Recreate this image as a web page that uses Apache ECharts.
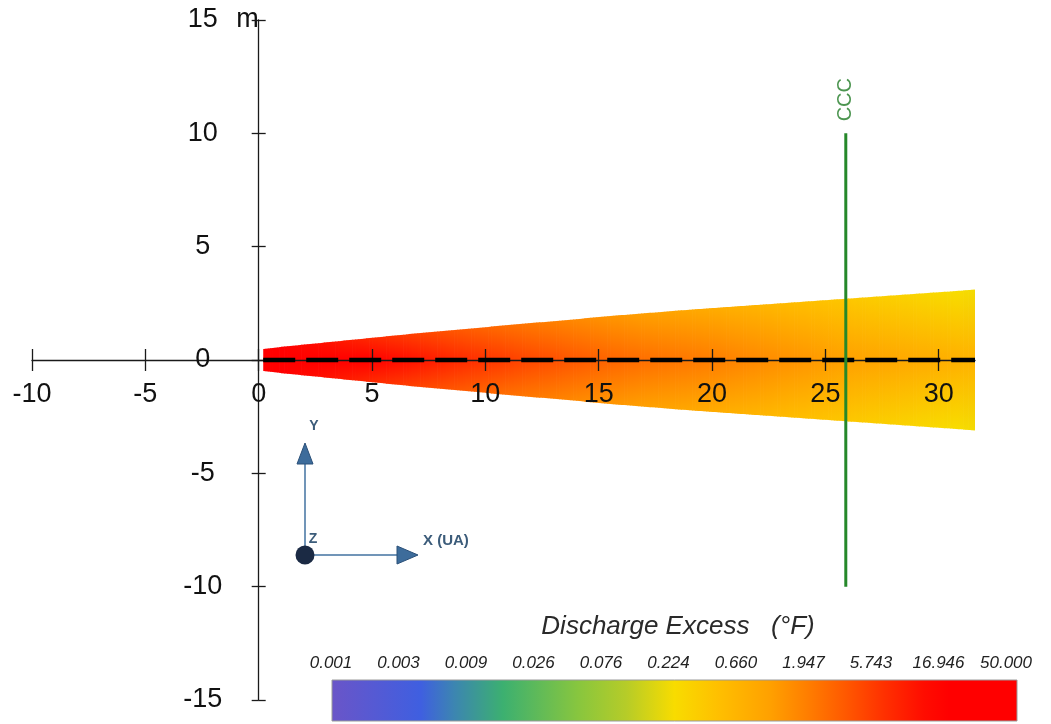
<!DOCTYPE html>
<html>
<head>
<meta charset="utf-8">
<script src="https://cdn.jsdelivr.net/npm/echarts@6/dist/echarts.min.js"></script>
<style>
  html, body { margin: 0; padding: 0; background: #ffffff; }
  #chart { width: 1051px; height: 724px; }
</style>
</head>
<body>
<div id="chart"></div>
<script>
// Plume stations along the discharge axis (m)
const plumeX = [0.2, 1, 2, 3, 4, 5, 6, 7, 8, 9, 10, 11, 12, 13, 14, 15, 16, 17, 18, 19, 20,
                21, 22, 23, 24, 25, 26, 27, 28, 29, 30, 31, 31.6];
// Plume half-width at each station (m)
const plumeHalfWidth = [0.48, 0.58, 0.68, 0.78, 0.88, 0.98, 1.08, 1.18, 1.27, 1.36, 1.45, 1.54, 1.63,
                        1.71, 1.8, 1.9, 1.98, 2.06, 2.14, 2.22, 2.29, 2.36, 2.43, 2.5, 2.57, 2.64,
                        2.71, 2.78, 2.85, 2.92, 2.99, 3.06, 3.11];
// Discharge excess on the centreline (°F)
const centerExcess = [50, 42, 33, 26, 20, 16, 12.5, 10, 8.2, 6.8, 5.8, 5.0, 4.3, 3.8, 3.3, 2.9, 2.6,
                      2.35, 2.15, 2.0, 1.85, 1.65, 1.5, 1.35, 1.22, 1.1, 1.0, 0.92, 0.85, 0.78, 0.72,
                      0.66, 0.63];
// Discharge excess at the plume boundary (°F)
const edgeExcess = [22, 17, 13, 10.5, 8.5, 6.8, 5.6, 4.6, 3.8, 3.2, 2.7, 2.3, 2.0, 1.75, 1.5, 1.3,
                    1.15, 1.02, 0.92, 0.82, 0.74, 0.66, 0.59, 0.52, 0.46, 0.41, 0.37, 0.33, 0.3, 0.27,
                    0.24, 0.22, 0.21];

// CCC boundary
const cccX = 25.9;
const cccSpan = [-10, 10];

// Axis ticks
const xTicks = [-10, -5, 0, 5, 10, 15, 20, 25, 30];
const yTicks = [-15, -10, -5, 0, 5, 10, 15];

// Colour bar (log scale)
const colorbarMin = 0.001;
const colorbarMax = 50;
const colorbarLabels = ['0.001', '0.003', '0.009', '0.026', '0.076', '0.224', '0.660', '1.947',
                        '5.743', '16.946', '50.000'];

// Colour map stops (position along the bar, colour)
const cmapPos = [0, 0.13, 0.18, 0.25, 0.36, 0.43, 0.5, 0.567, 0.64, 0.70, 0.75, 0.806, 0.864, 0.9, 1];
const cmapColors = ['#6a55c8', '#3f5fe0', '#3c86b0', '#3cb070', '#88c63e', '#b6cc28', '#f8dc00',
                    '#ffbe00', '#ffa000', '#ff7a00', '#ff5800', '#ff3000', '#ff0c00', '#ff0000', '#ff0000'];

function hexToRgb(h) {
  const n = parseInt(h.slice(1), 16);
  return [(n >> 16) & 255, (n >> 8) & 255, n & 255];
}
const cmapRgb = cmapColors.map(hexToRgb);

function excessColor(v) {
  let t = Math.log(v / colorbarMin) / Math.log(colorbarMax / colorbarMin);
  t = Math.max(0, Math.min(1, t));
  let k = 0;
  while (k < cmapPos.length - 2 && t > cmapPos[k + 1]) k++;
  const f = (t - cmapPos[k]) / (cmapPos[k + 1] - cmapPos[k]);
  const a = cmapRgb[k], b = cmapRgb[k + 1];
  const c = a.map((x, j) => Math.round(x + (b[j] - x) * f));
  return 'rgb(' + c.join(',') + ')';
}

// One plume piece per pair of neighbouring stations
const plumeStrips = [];
for (let i = 0; i < plumeX.length - 1; i++) {
  plumeStrips.push([plumeX[i], plumeX[i + 1], plumeHalfWidth[i], plumeHalfWidth[i + 1],
                    centerExcess[i], centerExcess[i + 1], edgeExcess[i], edgeExcess[i + 1]]);
}

// Each piece is shaded as thin slices so the field varies smoothly between stations
const SLICES = 8;
function renderStrip(params, api) {
  const x0 = api.value(0), x1 = api.value(1);
  const w0 = api.value(2), w1 = api.value(3);
  const c0 = Math.log(api.value(4)), c1 = Math.log(api.value(5));
  const e0 = Math.log(api.value(6)), e1 = Math.log(api.value(7));
  const last = params.dataIndex === params.dataInsideLength - 1;
  const children = [];
  for (let s = 0; s < SLICES; s++) {
    const fa = s / SLICES, fb = (s + 1) / SLICES, fm = (s + 0.5) / SLICES;
    const xa = x0 + (x1 - x0) * fa, xb = x0 + (x1 - x0) * fb;
    const wa = w0 + (w1 - w0) * fa, wb = w0 + (w1 - w0) * fb;
    const a = api.coord([xa, wa]);
    const b = api.coord([xb, wb]);
    const c = api.coord([xb, -wb]);
    const d = api.coord([xa, -wa]);
    const pad = (last && s === SLICES - 1) ? 0 : 0.7;
    const edgeCol = excessColor(Math.exp(e0 + (e1 - e0) * fm));
    const midCol = excessColor(Math.exp(c0 + (c1 - c0) * fm));
    children.push({
      type: 'polygon',
      shape: { points: [a, [b[0] + pad, b[1]], [c[0] + pad, c[1]], d] },
      style: {
        fill: {
          type: 'linear', x: 0, y: 0, x2: 0, y2: 1,
          colorStops: [
            { offset: 0, color: edgeCol },
            { offset: 0.5, color: midCol },
            { offset: 1, color: edgeCol }
          ]
        },
        stroke: null
      }
    });
  }
  return { type: 'group', children: children };
}

const FONT = 'Liberation Sans';
const axisColor = '#1a1a1a';

// Grid geometry: the axes cross at the origin
const GRID_LEFT = 32, GRID_RIGHT = 76, GRID_TOP = 20, GRID_BOTTOM = 24;
const X_MIN = -10, X_MAX = 31.6, Y_MIN = -15, Y_MAX = 15;
const gridW = 1051 - GRID_LEFT - GRID_RIGHT;
const gridH = 724 - GRID_TOP - GRID_BOTTOM;
const xAxisOffset = -gridH * (0 - Y_MIN) / (Y_MAX - Y_MIN);
const yAxisOffset = -gridW * (0 - X_MIN) / (X_MAX - X_MIN);

const chart = echarts.init(document.getElementById('chart'), null, { renderer: 'canvas' });

const triadBlue = '#3d6c9b';
const triadLine = '#7195b8';
const triadText = '#3c5c7a';

const lineStyleAxis = { color: axisColor, width: 1.3 };

chart.setOption({
  animation: false,
  backgroundColor: '#ffffff',
  grid: [
    { left: GRID_LEFT, right: GRID_RIGHT, top: GRID_TOP, bottom: GRID_BOTTOM, containLabel: false,
      outerBoundsMode: 'none' },
    { left: 331, width: 675, top: 680, height: 40, containLabel: false, outerBoundsMode: 'none' }
  ],
  xAxis: [
    {
      type: 'value', gridIndex: 0, min: X_MIN, max: X_MAX, position: 'bottom', offset: xAxisOffset, z: 3,
      axisLine: { show: true, onZero: false, lineStyle: lineStyleAxis },
      axisTick: { show: true, inside: false, length: 11, customValues: xTicks, lineStyle: lineStyleAxis },
      axisLabel: { show: true, customValues: xTicks, margin: 21, fontFamily: FONT, fontSize: 27,
                   color: '#111' },
      splitLine: { show: false }
    },
    {
      type: 'value', gridIndex: 0, min: X_MIN, max: X_MAX, position: 'bottom', offset: xAxisOffset, z: 3,
      axisLine: { show: false, onZero: false },
      axisTick: { show: true, inside: true, length: 11, customValues: xTicks, lineStyle: lineStyleAxis },
      axisLabel: { show: false },
      splitLine: { show: false }
    },
    {
      type: 'value', gridIndex: 1, min: 0, max: 10, interval: 1, position: 'top',
      axisLine: { show: false }, axisTick: { show: false }, splitLine: { show: false },
      axisLabel: {
        margin: 8, fontFamily: FONT, fontStyle: 'italic', fontSize: 17, color: '#222',
        formatter: (v) => colorbarLabels[Math.round(v)]
      }
    }
  ],
  yAxis: [
    {
      type: 'value', gridIndex: 0, min: Y_MIN, max: Y_MAX, position: 'left', offset: yAxisOffset, z: 3,
      name: 'm', nameLocation: 'end', nameGap: 0,
      nameTextStyle: { fontFamily: FONT, fontSize: 27, color: '#111', align: 'right',
                       verticalAlign: 'middle', padding: [0, 0, 4, 0] },
      axisLine: { show: true, onZero: false, lineStyle: lineStyleAxis },
      axisTick: { show: true, inside: false, length: 7, customValues: yTicks, lineStyle: lineStyleAxis },
      axisLabel: { show: true, customValues: yTicks, align: 'center', margin: 56, fontFamily: FONT,
                   fontSize: 27, color: '#111' },
      splitLine: { show: false }
    },
    {
      type: 'value', gridIndex: 0, min: Y_MIN, max: Y_MAX, position: 'left', offset: yAxisOffset, z: 3,
      axisLine: { show: false, onZero: false },
      axisTick: { show: true, inside: true, length: 7, customValues: yTicks, lineStyle: lineStyleAxis },
      axisLabel: { show: false },
      splitLine: { show: false }
    },
    { type: 'value', gridIndex: 1, min: 0, max: 1, show: false }
  ],
  series: [
    {
      name: 'Discharge Excess',
      type: 'custom',
      xAxisIndex: 0, yAxisIndex: 0,
      z: 2,
      renderItem: renderStrip,
      encode: { x: [0, 1], y: [2, 3] },
      data: plumeStrips,
      silent: true
    },
    {
      name: 'Centreline',
      type: 'line',
      xAxisIndex: 0, yAxisIndex: 0,
      z: 4,
      showSymbol: false,
      data: [[plumeX[0], 0], [plumeX[plumeX.length - 1], 0]],
      lineStyle: { color: '#000000', width: 4.5, type: [32, 11] },
      silent: true
    },
    {
      name: 'CCC',
      type: 'line',
      xAxisIndex: 0, yAxisIndex: 0,
      z: 6,
      showSymbol: false,
      data: [[cccX, cccSpan[0]], [cccX, cccSpan[1]]],
      lineStyle: { color: '#25882a', width: 3 },
      silent: true
    },
    {
      name: 'CCC label',
      type: 'scatter',
      xAxisIndex: 0, yAxisIndex: 0,
      z: 6,
      symbolSize: 0,
      data: [[cccX, cccSpan[1]]],
      label: {
        show: true, formatter: 'CCC', position: 'top', distance: 12, rotate: 90,
        align: 'left', verticalAlign: 'middle',
        fontFamily: FONT, fontSize: 20, color: '#1f7a24'
      },
      silent: true
    }
  ],
  graphic: [
    // colour bar
    {
      type: 'rect', z: 10,
      shape: { x: 332, y: 680, width: 685, height: 41 },
      style: {
        fill: {
          type: 'linear', x: 0, y: 0, x2: 1, y2: 0,
          colorStops: cmapPos.map((p, i) => ({ offset: p, color: cmapColors[i] }))
        },
        stroke: '#9a9a9a', lineWidth: 1
      }
    },
    {
      type: 'text', z: 10, x: 678, y: 627,
      style: {
        text: 'Discharge Excess   (°F)', fill: '#2a2a2a',
        font: 'italic 26px "Liberation Sans"', align: 'center', verticalAlign: 'middle'
      }
    },
    // orientation triad
    { type: 'line', z: 10, shape: { x1: 305, y1: 555, x2: 305, y2: 462 },
      style: { stroke: triadLine, lineWidth: 2 } },
    { type: 'line', z: 10, shape: { x1: 305, y1: 555, x2: 398, y2: 555 },
      style: { stroke: triadLine, lineWidth: 2 } },
    { type: 'polygon', z: 11, shape: { points: [[305, 443], [297, 464], [313, 464]] },
      style: { fill: triadBlue, stroke: '#2b5079', lineWidth: 1 } },
    { type: 'polygon', z: 11, shape: { points: [[418, 555], [397, 546], [397, 564]] },
      style: { fill: triadBlue, stroke: '#2b5079', lineWidth: 1 } },
    { type: 'circle', z: 12, shape: { cx: 305, cy: 555, r: 9.5 },
      style: { fill: '#1b2a44' } },
    { type: 'text', z: 12, x: 314, y: 426,
      style: { text: 'Y', fill: triadText, font: 'bold 14px "Liberation Sans"',
               align: 'center', verticalAlign: 'middle' } },
    { type: 'text', z: 12, x: 313, y: 539,
      style: { text: 'Z', fill: triadText, font: 'bold 14px "Liberation Sans"',
               align: 'center', verticalAlign: 'middle' } },
    { type: 'text', z: 12, x: 423, y: 541,
      style: { text: 'X (UA)', fill: triadText, font: 'bold 15px "Liberation Sans"',
               align: 'left', verticalAlign: 'middle' } }
  ]
});
</script>
</body>
</html>
